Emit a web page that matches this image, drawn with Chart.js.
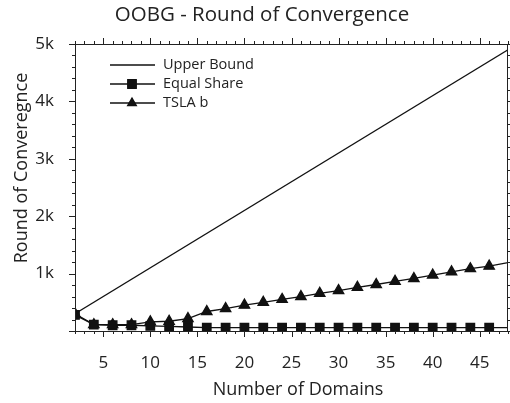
<!DOCTYPE html>
<html>
<head>
<meta charset="utf-8">
<script src="https://cdn.jsdelivr.net/npm/chart.js@4"></script>
<style>
  html, body { margin: 0; padding: 0; background: #fff; }
  #wrap { width: 510px; height: 403px; }
</style>
</head>
<body>
<div id="wrap"><canvas id="chart" width="510" height="403"></canvas></div>
<script>
// data
const domains = [2, 4, 6, 8, 10, 12, 14, 16, 18, 20, 22, 24, 26, 28, 30, 32, 34, 36, 38, 40, 42, 44, 46, 48];
const equalShare = [280, 110, 100, 100, 90, 80, 70, 60, 60, 60, 60, 60, 60, 60, 60, 60, 60, 60, 60, 60, 60, 60, 60, 60];
const tslaB = [300, 110, 110, 110, 160, 170, 215, 340, 390, 450, 500, 550, 600, 655, 705, 760, 810, 865, 915, 975, 1030, 1085, 1130, 1190];
const upperX = [2, 48];
const upperBound = [300, 4900];
const xTickLabels = [5, 10, 15, 20, 25, 30, 35, 40, 45];
const yTickLabels = [1000, 2000, 3000, 4000, 5000];

const FONT = "'Open Sans', 'DejaVu Sans', sans-serif";
const TEXT = '#222';

function pts(xs, ys) {
    return xs.map((x, i) => ({ x: x, y: ys[i] }));
}
// last point sits on the right border, its marker is not drawn
function radii(n, r) {
    return Array.from({ length: n }, (_, i) => (i === n - 1 ? 0 : r));
}

// frame + outward ticks on all four sides
const framePlugin = {
    id: 'frame',
    afterDatasetsDraw(chart) {
        const ctx = chart.ctx;
        const a = chart.chartArea;
        const xs = chart.scales.x, ys = chart.scales.y;
        ctx.save();
        ctx.strokeStyle = '#222';
        ctx.lineWidth = 1;
        ctx.strokeRect(a.left + 0.5, a.top + 0.5, a.right - a.left - 1, a.bottom - a.top);
        ctx.beginPath();
        for (let v = 2; v <= 48; v++) {
            const px = Math.round(xs.getPixelForValue(v)) + 0.5;
            const len = v % 5 === 0 ? 6 : 3;
            ctx.moveTo(px, a.bottom); ctx.lineTo(px, a.bottom + len);
            ctx.moveTo(px, a.top); ctx.lineTo(px, a.top - len);
        }
        for (let v = 0; v <= 5000; v += 200) {
            const py = Math.round(ys.getPixelForValue(v)) + 0.5;
            const len = v % 1000 === 0 ? 6 : 3;
            ctx.moveTo(a.left, py); ctx.lineTo(a.left - len, py);
            ctx.moveTo(a.right, py); ctx.lineTo(a.right + len, py);
        }
        ctx.stroke();
        ctx.restore();
    }
};

// chart title and axis titles, placed as in the original
const titlesPlugin = {
    id: 'titles',
    afterDraw(chart) {
        const ctx = chart.ctx;
        ctx.save();
        ctx.fillStyle = TEXT;
        ctx.textAlign = 'center';
        ctx.textBaseline = 'middle';
        ctx.font = '20.5px ' + FONT;
        ctx.fillText('OOBG - Round of Convergence', 262, 15);
        ctx.font = '18px ' + FONT;
        ctx.fillText('Number of Domains', 298, 390);
        ctx.translate(22, 168);
        ctx.rotate(-Math.PI / 2);
        ctx.fillText('Round of Converegnce', 0, 0);
        ctx.restore();
    }
};

// legend drawn inside the plot, top-left
const innerLegend = {
    id: 'innerLegend',
    afterDraw(chart) {
        const ctx = chart.ctx;
        ctx.save();
        ctx.font = '14.5px ' + FONT;
        ctx.textBaseline = 'middle';
        chart.data.datasets.forEach((ds, i) => {
            const y = 65 + i * 19;
            ctx.strokeStyle = '#111';
            ctx.lineWidth = 1.3;
            ctx.beginPath();
            ctx.moveTo(110, y); ctx.lineTo(155, y);
            ctx.stroke();
            if (ds.pointStyle) {
                ctx.fillStyle = '#111';
                Chart.helpers.drawPoint(ctx, { pointStyle: ds.pointStyle, radius: ds.legendRadius, borderWidth: 1 }, 132, y);
                ctx.fill();
            }
            ctx.fillStyle = TEXT;
            ctx.fillText(ds.label, 163, y);
        });
        ctx.restore();
    }
};

new Chart(document.getElementById('chart'), {
    type: 'line',
    data: {
        datasets: [
            {
                label: 'Upper Bound',
                data: pts(upperX, upperBound),
                borderColor: '#111',
                borderWidth: 1.3,
                pointRadius: 0
            },
            {
                label: 'Equal Share',
                data: pts(domains, equalShare),
                borderColor: '#111',
                backgroundColor: '#111',
                borderWidth: 1.3,
                pointStyle: 'rect',
                pointRadius: radii(domains.length, 6),
                legendRadius: 6
            },
            {
                label: 'TSLA b',
                data: pts(domains, tslaB),
                borderColor: '#111',
                backgroundColor: '#111',
                borderWidth: 1.3,
                pointStyle: 'triangle',
                pointRadius: radii(domains.length, 6),
                legendRadius: 5
            }
        ]
    },
    options: {
        responsive: false,
        animation: false,
        layout: { autoPadding: false, padding: { left: 0, right: 2, top: 44, bottom: 0 } },
        plugins: {
            legend: { display: false },
            tooltip: { enabled: false },
            title: { display: false }
        },
        scales: {
            x: {
                type: 'linear',
                min: 2,
                max: 48,
                border: { display: false },
                grid: { display: false },
                afterBuildTicks(scale) {
                    scale.ticks = xTickLabels.map(v => ({ value: v }));
                },
                afterFit(scale) {
                    scale.height = 72;
                    scale.paddingLeft = 0;
                    scale.paddingRight = 0;
                },
                ticks: {
                    color: TEXT,
                    font: { family: FONT, size: 17 },
                    padding: 14,
                    maxRotation: 0,
                    autoSkip: false
                }
            },
            y: {
                min: 0,
                max: 5000,
                border: { display: false },
                grid: { display: false },
                afterBuildTicks(scale) {
                    scale.ticks = yTickLabels.map(v => ({ value: v }));
                },
                afterFit(scale) {
                    scale.width = 75;
                    scale.paddingTop = 0;
                    scale.paddingBottom = 0;
                },
                ticks: {
                    color: TEXT,
                    font: { family: FONT, size: 17 },
                    padding: 13,
                    callback: v => (v / 1000) + 'k'
                }
            }
        }
    },
    plugins: [framePlugin, titlesPlugin, innerLegend]
});
</script>
</body>
</html>
